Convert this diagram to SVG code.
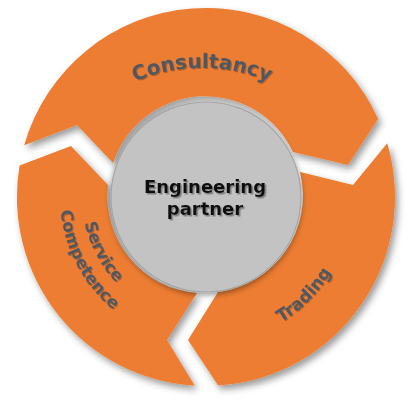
<svg xmlns="http://www.w3.org/2000/svg" width="415" height="402" viewBox="0 0 415 402">
<defs>
<filter id="segShadow" x="-10%" y="-10%" width="125%" height="125%">
<feDropShadow dx="3" dy="4" stdDeviation="3.5" flood-color="#000" flood-opacity="0.4"/>
</filter>
<filter id="hubShadow" x="-15%" y="-15%" width="130%" height="130%">
<feDropShadow dx="0" dy="2" stdDeviation="3" flood-color="#000" flood-opacity="0.45"/>
</filter>
<filter id="txtShadow" x="-5%" y="-20%" width="110%" height="140%">
<feDropShadow dx="1.5" dy="1.5" stdDeviation="0.6" flood-color="#6a6a6a" flood-opacity="0.8"/>
</filter>
<filter id="lblShadow" x="-5%" y="-20%" width="110%" height="140%">
<feDropShadow dx="1" dy="1" stdDeviation="0.6" flood-color="#000" flood-opacity="0.25"/>
</filter>
<path id="arcConsultancy" d="M41.3,180.5 A171,171 0 0 1 362.7,180.5"/>
<path id="arcTrading" d="M180.6,340.8 A146,146 0 0 0 349.8,171.6"/>
<path id="arcService" d="M93.6,144.6 A124,124 0 0 0 186.6,319.5"/>
<path id="arcCompetence" d="M73.7,135.3 A146,146 0 0 0 183.2,341.2"/>
</defs>
<style>
.seg{fill:#ED7D31;filter:url(#segShadow)}
.lbl{font-family:"DejaVu Sans",Verdana,sans-serif;font-weight:bold;fill:#505962;filter:url(#lblShadow)}
.hub{fill:#C3C3C3;stroke:#A5A5A5;stroke-width:1.2;filter:url(#hubShadow)}
.hubtxt{font-family:"DejaVu Sans",Verdana,sans-serif;font-weight:bold;font-size:18px;fill:#111;text-anchor:middle;filter:url(#txtShadow)}
</style>
<rect width="415" height="402" fill="#fff"/>
<g id="connectors"/>
<g id="consultancy">
<path class="seg" d="M113,163 L77,125 L24.2,145.2 A189,189 0 0 1 378.1,118.9 L348,165 L293,152 A97,97 0 0 0 113,163 Z"/>
<text class="lbl" font-size="20" text-anchor="middle"><textPath href="#arcConsultancy" startOffset="50%">Consultancy</textPath></text>
</g>
<g id="trading">
<path class="seg" d="M300,172 L353,185 L387.2,143.3 A189,189 0 0 1 218.2,385.6 L188,340 L218,292 A97,97 0 0 0 300,172 Z"/>
<text class="lbl" font-size="17" text-anchor="middle"><textPath href="#arcTrading" startOffset="50%">Trading</textPath></text>
</g>
<g id="service-competence">
<path class="seg" d="M197,293 L167,340 L194.8,385.7 A189,189 0 0 1 19.6,165.5 L71,146 L108,185 A97,97 0 0 0 197,293 Z"/>
<text class="lbl" font-size="16.5" text-anchor="middle"><textPath href="#arcService" startOffset="50%">Service</textPath></text>
<text class="lbl" font-size="16.5" text-anchor="middle"><textPath href="#arcCompetence" startOffset="50%">Competence</textPath></text>
</g>
<g id="engineering-partner">
<circle class="hub" cx="206" cy="197" r="95"/>
<text class="hubtxt" x="205" y="193">Engineering</text>
<text class="hubtxt" x="205" y="215">partner</text>
</g>
</svg>
